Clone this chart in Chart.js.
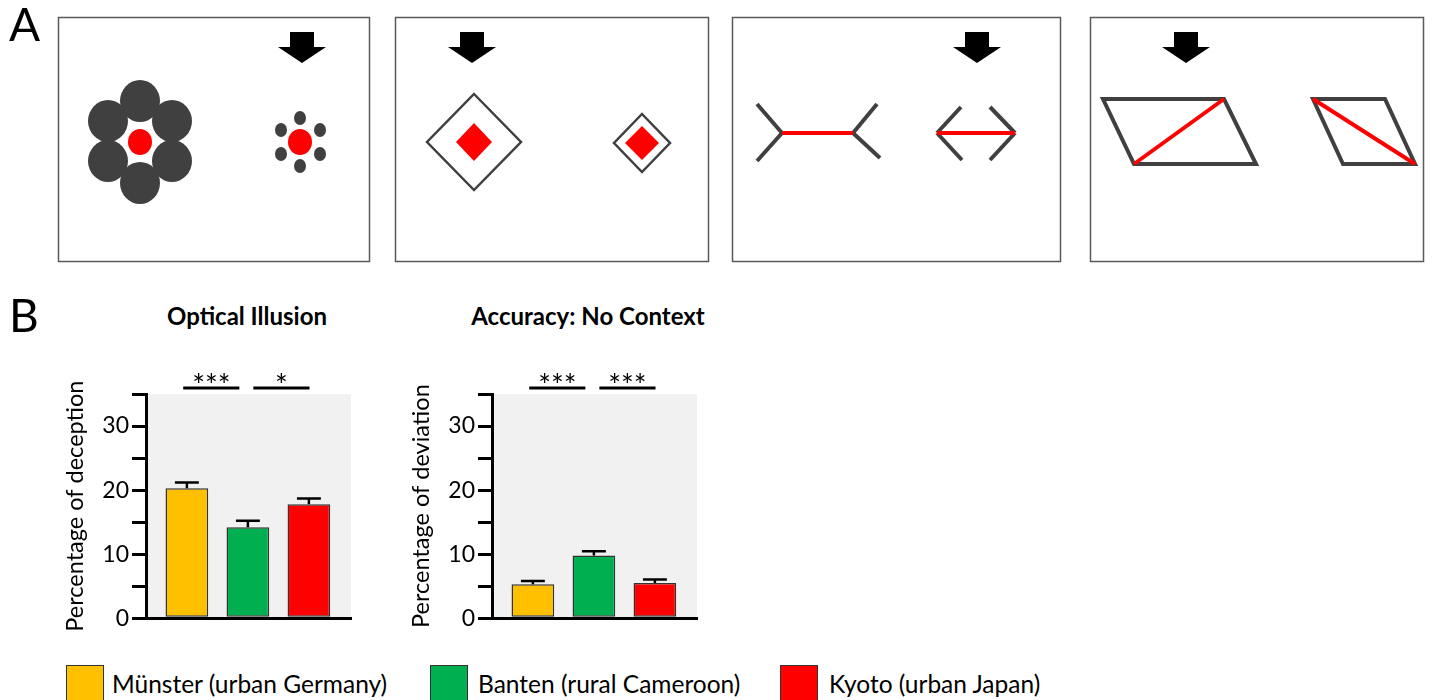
<!DOCTYPE html>
<html><head><meta charset="utf-8">
<script src="https://cdn.jsdelivr.net/npm/chart.js@4.4.0/dist/chart.umd.min.js"></script>
<style>
html,body{margin:0;padding:0;background:#fff}
body{width:1432px;height:700px;position:relative;overflow:hidden;font-family:Lato,'Open Sans',sans-serif;color:#000}
.abs{position:absolute;white-space:nowrap;line-height:1}
.letter{font-size:46px}
.ttl{font-weight:bold;font-size:24px;text-align:center;width:300px}
.sw{position:absolute;width:38px;height:38px;box-sizing:border-box;border:1.5px solid #333}
.lt{font-size:24.5px}
.wrap{position:absolute;width:330px;height:275px}
</style>
</head><body>
<canvas id="illus" width="1432" height="275" style="position:absolute;left:0;top:0"></canvas>
<div class="abs letter" style="left:9px;top:1px">A</div>
<div class="abs letter" style="left:9px;top:292px">B</div>
<div class="abs ttl" style="left:97px;top:304px">Optical Illusion</div>
<div class="abs ttl" style="left:438px;top:304px">Accuracy: No Context</div>
<div class="wrap" style="left:50px;top:360px"><canvas id="c1"></canvas></div>
<div class="wrap" style="left:396px;top:360px"><canvas id="c2"></canvas></div>
<div id="legend"></div>
<script>
// ---- data ----
const groups = ['Münster (urban Germany)', 'Banten (rural Cameroon)', 'Kyoto (urban Japan)'];
const groupColors = ['#FFC000', '#00B050', '#FF0000'];
const illusionMeans = [20.3, 14.2, 17.8];
const illusionSEM = [0.9, 1.0, 0.9];
const noContextMeans = [5.3, 9.8, 5.5];
const noContextSEM = [0.5, 0.65, 0.55];
const illusionSig = [[0, 1, '***'], [1, 2, '*']];
const noContextSig = [[0, 1, '***'], [1, 2, '***']];
const yMin = 0, yMax = 35, yStep = 5, yLabelEvery = 10;

// ---- legend ----
const legendPos = [[66, 112], [430, 478], [780, 829]];
const legend = document.getElementById('legend');
groups.forEach((g, i) => {
  const sw = document.createElement('div');
  sw.className = 'sw'; sw.style.left = legendPos[i][0] + 'px'; sw.style.top = '665px';
  sw.style.background = groupColors[i];
  legend.appendChild(sw);
  const t = document.createElement('div');
  t.className = 'abs lt'; t.style.left = legendPos[i][1] + 'px'; t.style.top = '672px';
  t.textContent = g;
  legend.appendChild(t);
});

// ---- illustrations (panel A) ----
(function () {
  const ctx = document.getElementById('illus').getContext('2d');
  const dark = '#404040';
  ctx.strokeStyle = '#5a5a5a'; ctx.lineWidth = 1.5;
  [[58, 17, 369, 261], [395, 17, 708, 261], [732, 17, 1060, 261], [1090, 17, 1423, 261]]
    .forEach(([x1, y1, x2, y2]) => ctx.strokeRect(x1 + 0.5, y1 + 0.5, x2 - x1, y2 - y1));
  function arrow(cx) {
    ctx.fillStyle = '#000'; ctx.beginPath();
    ctx.moveTo(cx - 12, 32); ctx.lineTo(cx + 12, 32); ctx.lineTo(cx + 12, 47); ctx.lineTo(cx + 24, 47);
    ctx.lineTo(cx, 63); ctx.lineTo(cx - 24, 47); ctx.lineTo(cx - 12, 47); ctx.closePath(); ctx.fill();
  }
  [302, 472, 977, 1186].forEach(arrow);
  function ell(x, y, rx, ry, col) { ctx.fillStyle = col; ctx.beginPath(); ctx.ellipse(x, y, rx, ry, 0, 0, Math.PI * 2); ctx.fill(); }
  // Ebbinghaus
  [[140, 101], [140, 183], [108, 121], [172, 121], [108, 161], [172, 161]].forEach(([x, y]) => ell(x, y, 20, 21, dark));
  ell(140, 142, 12, 13, '#FF0000');
  [[300, 118], [300, 166], [281, 130], [320, 130], [281, 154], [320, 154]].forEach(([x, y]) => ell(x, y, 6, 7, dark));
  ell(300, 142, 12, 13, '#FF0000');
  // diamonds
  function diamond(cx, cy, hx, hy, fill) {
    ctx.beginPath(); ctx.moveTo(cx, cy - hy); ctx.lineTo(cx + hx, cy); ctx.lineTo(cx, cy + hy); ctx.lineTo(cx - hx, cy); ctx.closePath();
    if (fill) { ctx.fillStyle = fill; ctx.fill(); } else { ctx.strokeStyle = dark; ctx.lineWidth = 2.5; ctx.stroke(); }
  }
  diamond(474, 142, 47, 48); diamond(474, 142, 18, 19, '#FF0000');
  diamond(642, 143, 28, 29); diamond(642, 143, 17, 17, '#FF0000');
  // Mueller-Lyer
  function seg(x1, y1, x2, y2, col, w) { ctx.strokeStyle = col; ctx.lineWidth = w; ctx.lineCap = 'butt'; ctx.beginPath(); ctx.moveTo(x1, y1); ctx.lineTo(x2, y2); ctx.stroke(); }
  seg(782, 133, 757, 104, dark, 4); seg(782, 133, 757, 161, dark, 4);
  seg(853, 133, 877, 104, dark, 4); seg(853, 133, 880, 158, dark, 4);
  seg(782, 133, 853, 133, '#FF0000', 4);
  seg(937, 133, 961, 107, dark, 4); seg(937, 133, 962, 160, dark, 4);
  seg(1015, 133, 990, 107, dark, 4); seg(1015, 133, 990, 160, dark, 4);
  seg(937, 133, 1015, 133, '#FF0000', 4);
  // Sander parallelogram
  function poly(pts) { ctx.strokeStyle = dark; ctx.lineWidth = 4; ctx.lineJoin = 'miter'; ctx.beginPath(); pts.forEach(([x, y], i) => i ? ctx.lineTo(x, y) : ctx.moveTo(x, y)); ctx.closePath(); ctx.stroke(); }
  poly([[1103, 99], [1224, 99], [1256, 164], [1134, 164]]);
  seg(1134, 164, 1224, 99, '#FF0000', 4);
  poly([[1313, 99], [1385, 99], [1415, 164], [1343, 164]]);
  seg(1313, 99, 1415, 164, '#FF0000', 4);
})();

// ---- charts ----
const bgPlugin = {
  id: 'grayBg',
  beforeDraw(chart) {
    const { ctx, chartArea: a } = chart;
    ctx.save(); ctx.fillStyle = '#f1f1f1';
    ctx.fillRect(a.left, a.top, a.right - a.left, a.bottom - a.top);
    ctx.restore();
  }
};
const errPlugin = {
  id: 'errorBars',
  afterDatasetsDraw(chart, args, opts) {
    const ctx = chart.ctx, y = chart.scales.y;
    const meta = chart.getDatasetMeta(0);
    ctx.save(); ctx.strokeStyle = '#000'; ctx.lineWidth = 2.5;
    meta.data.forEach((bar, i) => {
      const v = chart.data.datasets[0].data[i].y;
      const top = y.getPixelForValue(v + opts.errors[i]);
      const half = bar.width * 0.28;
      ctx.beginPath();
      ctx.moveTo(bar.x, bar.y); ctx.lineTo(bar.x, top);
      ctx.moveTo(bar.x - half, top); ctx.lineTo(bar.x + half, top);
      ctx.stroke();
    });
    ctx.restore();
  }
};
const sigPlugin = {
  id: 'sig',
  afterDraw(chart, args, opts) {
    const ctx = chart.ctx, x = chart.scales.x, y = chart.scales.y;
    const lineY = y.getPixelForValue(yMax) - 6;
    const offs = [[-0.06, -0.14], [0.09, 0.01]];
    ctx.save();
    opts.pairs.forEach(([a, b, label], k) => {
      const x1 = x.getPixelForValue(a + offs[k][0]);
      const x2 = x.getPixelForValue(b + offs[k][1]);
      ctx.strokeStyle = '#000'; ctx.lineWidth = 3;
      ctx.beginPath(); ctx.moveTo(x1, lineY); ctx.lineTo(x2, lineY); ctx.stroke();
      ctx.fillStyle = '#000'; ctx.font = '30px Lato, sans-serif';
      ctx.textAlign = 'center'; ctx.textBaseline = 'alphabetic';
      ctx.fillText(label, (x1 + x2) / 2, lineY + 8);
    });
    ctx.restore();
  }
};

function makeChart(id, means, sem, sig, yTitle) {
  const font = { family: 'Lato, sans-serif', size: 23 };
  return new Chart(document.getElementById(id), {
    type: 'bar',
    data: {
      datasets: [{
        data: means.map((v, i) => ({ x: i, y: v })),
        backgroundColor: groupColors,
        borderColor: '#333',
        borderWidth: 1.5,
        borderSkipped: false,
        barPercentage: 0.7,
        categoryPercentage: 1.0
      }]
    },
    options: {
      responsive: true, maintainAspectRatio: false, animation: false,
      devicePixelRatio: 1,
      layout: { padding: { top: 34, right: 29, bottom: 13, left: 0 } },
      plugins: {
        legend: { display: false }, tooltip: { enabled: false }, title: { display: false },
        errorBars: { errors: sem },
        sig: { pairs: sig }
      },
      scales: {
        x: {
          type: 'linear', min: -0.67, max: 2.69, offset: false,
          afterBuildTicks: s => { s.ticks = groups.map((g, i) => ({ value: i })); },
          afterFit: s => { s.height = 0; },
          ticks: { display: false },
          grid: { display: true, drawOnChartArea: false, drawTicks: false },
          border: { display: true, color: '#000', width: 3 }
        },
        y: {
          min: yMin, max: yMax,
          afterFit: s => { s.width = 96; },
          ticks: {
            stepSize: yStep,
            callback: v => (v % yLabelEvery === 0 ? String(v) : ''),
            font: font, color: '#000', padding: 3
          },
          grid: { drawOnChartArea: false, drawTicks: true, tickLength: 14, color: '#000', lineWidth: 3 },
          border: { display: true, color: '#000', width: 3 },
          title: { display: true, text: yTitle, font: { family: 'Lato, sans-serif', size: 23.5 }, color: '#000', padding: { top: 11, bottom: 0 } }
        }
      }
    },
    plugins: [bgPlugin, errPlugin, sigPlugin]
  });
}
makeChart('c1', illusionMeans, illusionSEM, illusionSig, 'Percentage of deception');
makeChart('c2', noContextMeans, noContextSEM, noContextSig, 'Percentage of deviation');
</script>
</body></html>
